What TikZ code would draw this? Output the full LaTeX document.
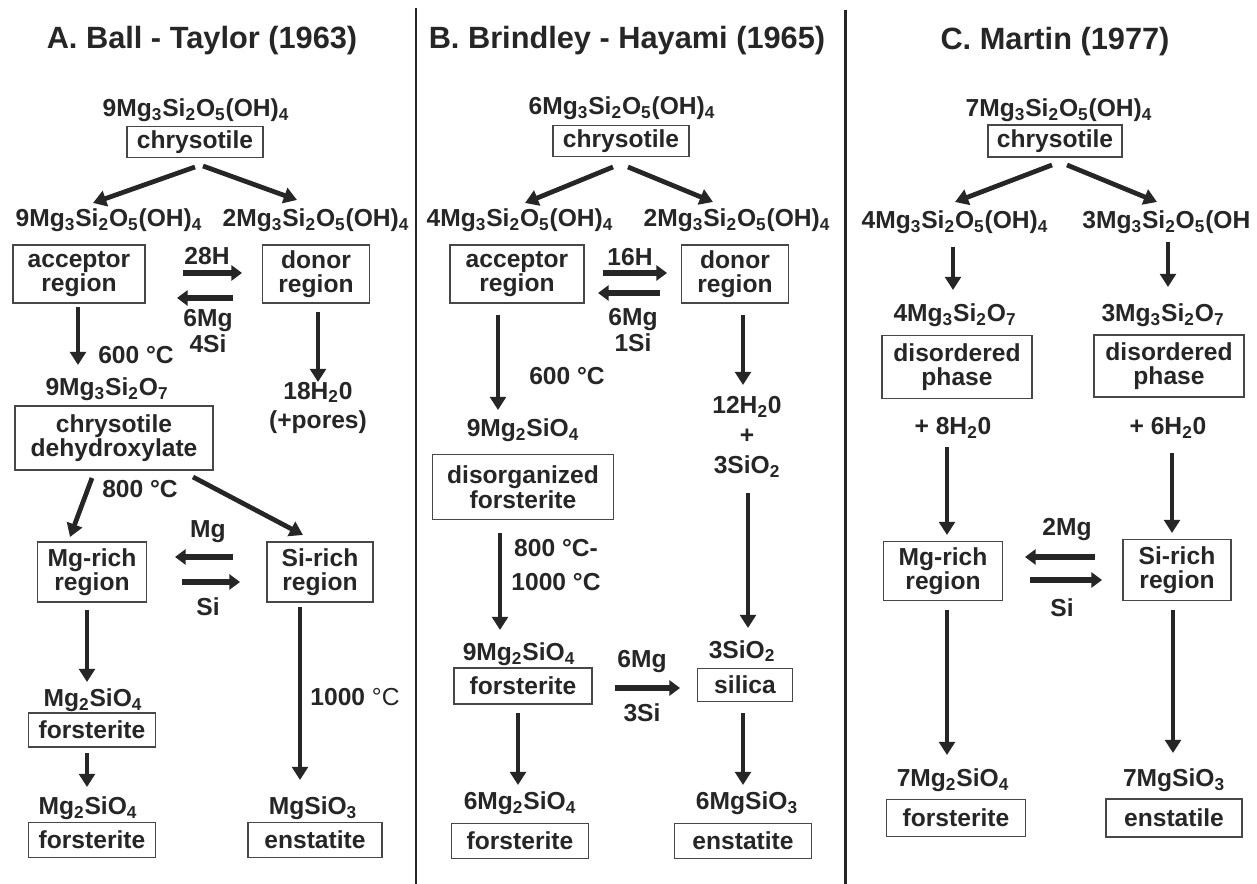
\documentclass[tikz,border=0pt]{standalone}
\usepackage{fontspec}
\setmainfont{Liberation Sans}
\usepackage{tikz}
\usetikzlibrary{arrows.meta, calc}
\definecolor{ink}{HTML}{262626}
\newcommand{\lo}[1]{\textsubscript{#1}}
\tikzstyle{heading} = [font=\fontsize{17.5}{20}\selectfont\bfseries, text=ink]
\tikzstyle{formula} = [inner sep=0pt, align=center, font=\fontsize{14}{15}\selectfont\bfseries, text=ink]
\tikzstyle{region} = [rectangle, draw=ink!85, line width=0.8pt, inner sep=0pt, align=center, font=\fontsize{14}{14}\selectfont\bfseries, text=ink]
\tikzstyle{arrow} = [line width=2.7pt, draw=ink, -{Triangle[length=7.5pt,width=9pt]}]
\tikzstyle{exchange} = [line width=3.2pt, draw=ink, -{Triangle[length=6pt,width=8.5pt]}]
\tikzstyle{divider} = [line width=1.7pt, draw=ink]

\begin{document}
\begin{tikzpicture}[x=0.02cm, y=-0.02cm]
\fill[white] (0,0) rectangle (1257,884);
\useasboundingbox (0,0) rectangle (1257,884);

% Dividers
\draw [divider] (416,8) -- (416,884);
\draw [divider] (845,10) -- (845,884);

% Nodes: A
\node (titA) [heading] at (202,41) {A. Ball - Taylor (1963)};
\node (fA0) [formula] at (196,110) {9Mg\lo3Si\lo2O\lo5(OH)\lo4};
\node (chrA) [region, minimum width=2.72cm, minimum height=0.62cm] at (195,142) {chrysotile};
\node (fA1) [formula] at (109,220) {9Mg\lo3Si\lo2O\lo5(OH)\lo4};
\node (fA2) [formula] at (316,220) {2Mg\lo3Si\lo2O\lo5(OH)\lo4};
\node (accA) [region, minimum width=2.64cm, minimum height=1.16cm] at (79,274) {acceptor\\region};
\node (donA) [region, minimum width=2.14cm, minimum height=1.16cm] at (316,274) {donor\\region};
\node (hA) [formula] at (207,256) {28H};
\node (mgsiA) [formula] at (208,331) {6Mg\\4Si};
\node (tA1) [formula] at (136,355) {600 °C};
\node (wA) [formula] at (318,408) {18H\lo20\\[2pt](+pores)};
\node (fA3) [formula] at (107,389) {9Mg\lo3Si\lo2O\lo7};
\node (dehA) [region, minimum width=3.96cm, minimum height=1.28cm] at (114,438) {chrysotile\\dehydroxylate};
\node (tA2) [formula] at (140,489) {800 °C};
\node (mgA) [formula] at (208,532) {Mg};
\node (mgrA) [region, minimum width=2.18cm, minimum height=1.2cm] at (92,572) {Mg-rich\\region};
\node (sirA) [region, minimum width=2.12cm, minimum height=1.2cm] at (320,572) {Si-rich\\region};
\node (siA) [formula] at (208,607) {Si};
\node (fA4) [formula] at (93,700) {Mg\lo2SiO\lo4};
\node (forA) [region, minimum width=2.54cm, minimum height=0.68cm] at (92,730) {forsterite};
\node (fA5) [formula] at (88,808) {Mg\lo2SiO\lo4};
\node (forA2) [region, minimum width=2.54cm, minimum height=0.7cm] at (92,840) {forsterite};
\node (tA3) [formula] at (355,697) {1000 {\mdseries °C}};
\node (fA6) [formula] at (313,808) {MgSiO\lo3};
\node (enA) [region, minimum width=2.68cm, minimum height=0.7cm] at (315,840) {enstatite};

% Arrows: A
\draw [arrow] ($(chrA)+(0,25)$) -- ($(fA1)+(-16,-17)$);
\draw [arrow] ($(chrA)+(8,24)$) -- ($(fA2)+(-19,-20)$);
\draw [exchange] ($(accA)+(104,-1)$) -- ($(donA)+(-74,-1)$);
\draw [exchange] ($(donA)+(-83,24)$) -- ($(accA)+(98,24)$);
\draw [arrow] ($(accA)+(-1,33)$) -- ($(fA3)+(-29,-24)$);
\draw [arrow] ($(donA)+(2,38)$) -- ($(wA)+(0,-26)$);
\draw [arrow] ($(dehA)+(-22,40)$) -- ($(mgrA)+(-22,-35)$);
\draw [arrow] ($(dehA)+(79,39)$) -- ($(sirA)+(-17,-37)$);
\draw [exchange] ($(sirA)+(-87,-15)$) -- ($(mgrA)+(83,-15)$);
\draw [exchange] ($(mgrA)+(90,10)$) -- ($(sirA)+(-80,10)$);
\draw [arrow] ($(mgrA)+(-5,38)$) -- ($(fA4)+(-6,-18)$);
\draw [arrow] ($(forA)+(-5,23)$) -- ($(fA5)+(-1,-21)$);
\draw [arrow] ($(sirA)+(-20,35)$) -- ($(fA6)+(-13,-28)$);

% Nodes: B
\node (titB) [heading] at (627,41) {B. Brindley - Hayami (1965)};
\node (fB0) [formula] at (622,108) {6Mg\lo3Si\lo2O\lo5(OH)\lo4};
\node (chrB) [region, minimum width=2.72cm, minimum height=0.62cm] at (621,141) {chrysotile};
\node (fB1) [formula] at (520,220) {4Mg\lo3Si\lo2O\lo5(OH)\lo4};
\node (fB2) [formula] at (737,220) {2Mg\lo3Si\lo2O\lo5(OH)\lo4};
\node (accB) [region, minimum width=2.68cm, minimum height=1.16cm] at (517,274) {acceptor\\region};
\node (donB) [region, minimum width=2.14cm, minimum height=1.16cm] at (735,274) {donor\\region};
\node (hB) [formula] at (630,257) {16H};
\node (mgsiB) [formula] at (633,330) {6Mg\\1Si};
\node (tB1) [formula] at (567,376) {600 °C};
\node (fB3) [formula] at (523,430) {9Mg\lo2SiO\lo4};
\node (dfoB) [region, minimum width=3.62cm, minimum height=1.3cm] at (523,487) {disorganized\\forsterite};
\node (wB) [formula] at (747,437) {12H\lo20\\[2pt]+\\[2pt]3SiO\lo2};
\node (tB2) [formula] at (556,565) {800 °C-\\[4.8pt]1000 °C};
\node (fB4) [formula] at (519,654) {9Mg\lo2SiO\lo4};
\node (forB) [region, minimum width=2.76cm, minimum height=0.72cm] at (523,686) {forsterite};
\node (mgB) [formula] at (642,662) {6Mg};
\node (siB) [formula] at (642,713) {3Si};
\node (fB5) [formula] at (742,651) {3SiO\lo2};
\node (silB) [region, minimum width=1.9cm, minimum height=0.66cm] at (745,685) {silica};
\node (fB6) [formula] at (520,803) {6Mg\lo2SiO\lo4};
\node (forB2) [region, minimum width=2.74cm, minimum height=0.7cm] at (520,841) {forsterite};
\node (fB7) [formula] at (747,803) {6MgSiO\lo3};
\node (enB) [region, minimum width=2.74cm, minimum height=0.7cm] at (743,841) {enstatite};

% Arrows: B
\draw [arrow] ($(chrB)+(-8,26)$) -- ($(fB1)+(5,-17)$);
\draw [arrow] ($(chrB)+(7,26)$) -- ($(fB2)+(-24,-18)$);
\draw [exchange] ($(accB)+(86,-1)$) -- ($(donB)+(-68,-1)$);
\draw [exchange] ($(donB)+(-75,19)$) -- ($(accB)+(81,19)$);
\draw [arrow] ($(accB)+(-19,41)$) -- ($(fB3)+(-25,-20)$);
\draw [arrow] ($(donB)+(8,41)$) -- ($(wB)+(-4,-52)$);
\draw [arrow] ($(dfoB)+(-23,46)$) -- ($(fB4)+(-19,-24)$);
\draw [arrow] ($(wB)+(1,56)$) -- ($(fB5)+(6,-23)$);
\draw [exchange] ($(forB)+(92,2)$) -- ($(silB)+(-65,3)$);
\draw [arrow] ($(forB)+(-5,27)$) -- ($(fB6)+(-2,-18)$);
\draw [arrow] ($(silB)+(-2,28)$) -- ($(fB7)+(-4,-18)$);

% Nodes: C
\node (titC) [heading] at (1055,42) {C. Martin (1977)};
\node (fC0) [formula] at (1059,110) {7Mg\lo3Si\lo2O\lo5(OH)\lo4};
\node (chrC) [region, minimum width=2.68cm, minimum height=0.64cm] at (1055,141) {chrysotile};
\node (fC1) [formula] at (955,222) {4Mg\lo3Si\lo2O\lo5(OH)\lo4};
\node (fC2) [formula, anchor=west] at (1082,222) {3Mg\lo3Si\lo2O\lo5(OH};
\node (fC3) [formula] at (955,315) {4Mg\lo3Si\lo2O\lo7};
\node (fC4) [formula] at (1163,315) {3Mg\lo3Si\lo2O\lo7};
\node (disC1) [region, minimum width=3.0cm, minimum height=1.26cm] at (957,367) {disordered\\phase};
\node (disC2) [region, minimum width=3.0cm, minimum height=1.24cm] at (1169,366) {disordered\\phase};
\node (wC1) [formula] at (953,428) {+ 8H\lo20};
\node (wC2) [formula] at (1168,428) {+ 6H\lo20};
\node (mgC) [formula] at (1067,530) {2Mg};
\node (mgrC) [region, minimum width=2.38cm, minimum height=1.18cm] at (943,571) {Mg-rich\\region};
\node (sirC) [region, minimum width=2.16cm, minimum height=1.22cm] at (1177,570) {Si-rich\\region};
\node (siC) [formula] at (1062,608) {Si};
\node (fC5) [formula] at (953,780) {7Mg\lo2SiO\lo4};
\node (forC) [region, minimum width=2.78cm, minimum height=0.74cm] at (956,818) {forsterite};
\node (fC6) [formula] at (1174,780) {7MgSiO\lo3};
\node (enC) [region, minimum width=2.72cm, minimum height=0.76cm] at (1174,818) {enstatile};

% Arrows: C
\draw [arrow] ($(chrC)+(-3,24)$) -- ($(fC1)+(0,-20)$);
\draw [arrow] ($(chrC)+(12,24)$) -- ($(fC2.west)+(75,-20)$);
\draw [arrow] ($(fC1)+(-2,25)$) -- ($(fC3)+(-2,-25)$);
\draw [arrow] ($(fC2.west)+(86,20)$) -- ($(fC4)+(5,-28)$);
\draw [arrow] ($(wC1)+(-6,19)$) -- ($(mgrC)+(4,-36)$);
\draw [arrow] ($(wC2)+(4,25)$) -- ($(sirC)+(-5,-37)$);
\draw [exchange] ($(sirC)+(-82,-13)$) -- ($(mgrC)+(82,-14)$);
\draw [exchange] ($(mgrC)+(87,9)$) -- ($(sirC)+(-75,10)$);
\draw [arrow] ($(mgrC)+(4,39)$) -- ($(fC5)+(-6,-25)$);
\draw [arrow] ($(sirC)+(-4,40)$) -- ($(fC6)+(-1,-27)$);

\end{tikzpicture}
\end{document}
